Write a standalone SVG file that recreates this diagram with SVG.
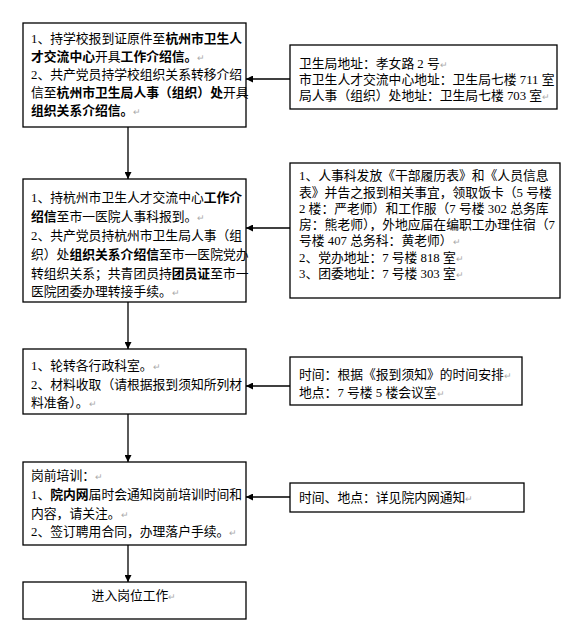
<svg xmlns="http://www.w3.org/2000/svg" width="574" height="638" viewBox="0 0 574 638">
<style>
  rect.box { fill: #fff; stroke: #000; stroke-width: 1.3; }
  text { font-family: "Liberation Serif", "Noto Sans CJK SC", serif; font-size: 12.8px; fill: #000; }
  .b { font-weight: bold; }
  .r { fill: #aaa; font-size: 9px; }
  line.c { stroke: #000; stroke-width: 1.3; }
</style>
<defs>
  <marker id="ah" viewBox="0 0 10 10" refX="10" refY="5" markerWidth="7" markerHeight="7" markerUnits="userSpaceOnUse" orient="auto">
    <path d="M0,0 L10,5 L0,10 z" fill="#000"/>
  </marker>
</defs>
<rect width="574" height="638" fill="#fff"/>

<g id="connectors">
  <line class="c" x1="128" y1="127" x2="128" y2="179" marker-end="url(#ah)"/>
  <line class="c" x1="128" y1="302" x2="128" y2="349" marker-end="url(#ah)"/>
  <line class="c" x1="128" y1="414" x2="128" y2="462" marker-end="url(#ah)"/>
  <line class="c" x1="128" y1="545" x2="128" y2="582" marker-end="url(#ah)"/>
  <line class="c" x1="290" y1="79" x2="246" y2="79" marker-end="url(#ah)"/>
  <line class="c" x1="290" y1="228" x2="246" y2="228" marker-end="url(#ah)"/>
  <line class="c" x1="290" y1="386" x2="246" y2="386" marker-end="url(#ah)"/>
  <line class="c" x1="290" y1="497" x2="246" y2="497" marker-end="url(#ah)"/>
</g>

<g id="step1">
  <rect class="box" x="23" y="23" width="223" height="104"/>
  <text x="31" y="43">1、持学校报到证原件至<tspan class="b">杭州市卫生人</tspan></text>
  <text x="31" y="61"><tspan class="b">才交流中心</tspan>开具<tspan class="b">工作介绍信。</tspan><tspan class="r">↵</tspan></text>
  <text x="31" y="79">2、共产党员持学校组织关系转移介绍</text>
  <text x="31" y="97">信至<tspan class="b">杭州市卫生局人事（组织）处</tspan>开具</text>
  <text x="31" y="115"><tspan class="b">组织关系介绍信。</tspan><tspan class="r">↵</tspan></text>
</g>

<g id="info1">
  <rect class="box" x="290" y="45" width="267" height="64"/>
  <text x="299" y="68">卫生局地址：孝女路 2 号<tspan class="r">↵</tspan></text>
  <text x="299" y="84">市卫生人才交流中心地址：卫生局七楼 711 室</text>
  <text x="299" y="100">局人事（组织）处地址：卫生局七楼 703 室<tspan class="r">↵</tspan></text>
</g>

<g id="step2">
  <rect class="box" x="23" y="179" width="223" height="123"/>
  <text x="31" y="202">1、持杭州市卫生人才交流中心<tspan class="b">工作介</tspan></text>
  <text x="31" y="221"><tspan class="b">绍信</tspan>至市一医院人事科报到。<tspan class="r">↵</tspan></text>
  <text x="31" y="240">2、共产党员持杭州市卫生局人事（组</text>
  <text x="31" y="259">织）处<tspan class="b">组织关系介绍信</tspan>至市一医院党办</text>
  <text x="31" y="278">转组织关系；共青团员持<tspan class="b">团员证</tspan>至市一</text>
  <text x="31" y="296">医院团委办理转接手续。<tspan class="r">↵</tspan></text>
</g>

<g id="info2">
  <rect class="box" x="290" y="163" width="270" height="135"/>
  <text x="299" y="180">1、人事科发放《干部履历表》和《人员信息</text>
  <text x="299" y="197">表》并告之报到相关事宜，领取饭卡（5 号楼</text>
  <text x="299" y="213">2 楼：严老师）和工作服（7 号楼 302 总务库</text>
  <text x="299" y="229">房：熊老师），外地应届在编职工办理住宿（7</text>
  <text x="299" y="245">号楼 407 总务科：黄老师）<tspan class="r">↵</tspan></text>
  <text x="299" y="262">2、党办地址：7 号楼 818 室<tspan class="r">↵</tspan></text>
  <text x="299" y="278">3、团委地址：7 号楼 303 室<tspan class="r">↵</tspan></text>
</g>

<g id="step3">
  <rect class="box" x="23" y="349" width="223" height="65"/>
  <text x="31" y="370">1、轮转各行政科室。<tspan class="r">↵</tspan></text>
  <text x="31" y="389">2、材料收取（请根据报到须知所列材</text>
  <text x="31" y="407">料准备）。<tspan class="r">↵</tspan></text>
</g>

<g id="info3">
  <rect class="box" x="290" y="357" width="232" height="48"/>
  <text x="299" y="379">时间：根据《报到须知》的时间安排<tspan class="r">↵</tspan></text>
  <text x="299" y="397">地点：7 号楼 5 楼会议室<tspan class="r">↵</tspan></text>
</g>

<g id="step4">
  <rect class="box" x="23" y="462" width="223" height="83"/>
  <text x="31" y="480">岗前培训：<tspan class="r">↵</tspan></text>
  <text x="31" y="499">1、<tspan class="b">院内网</tspan>届时会通知岗前培训时间和</text>
  <text x="31" y="518">内容，请关注。<tspan class="r">↵</tspan></text>
  <text x="31" y="536">2、签订聘用合同，办理落户手续。<tspan class="r">↵</tspan></text>
</g>

<g id="info4">
  <rect class="box" x="290" y="483" width="234" height="29"/>
  <text x="299" y="502">时间、地点：详见院内网通知<tspan class="r">↵</tspan></text>
</g>

<g id="step5">
  <rect class="box" x="23" y="582" width="223" height="37"/>
  <text x="134" y="600" text-anchor="middle">进入岗位工作<tspan class="r">↵</tspan></text>
</g>
</svg>
